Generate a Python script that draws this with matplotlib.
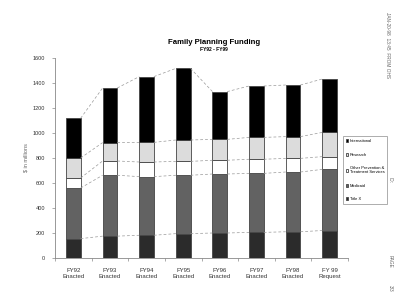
import matplotlib
matplotlib.use("Agg")
import matplotlib.pyplot as plt
import numpy as np

plt.rcParams["font.family"] = ["Liberation Sans", "DejaVu Sans"]

# data ($ millions)
years = ["FY92\nEnacted", "FY93\nEnacted", "FY94\nEnacted", "FY95\nEnacted",
         "FY96\nEnacted", "FY97\nEnacted", "FY98\nEnacted", "FY 99\nRequest"]
title_x = [155, 175, 182, 195, 200, 205, 210, 220]
medicaid = [405, 487, 469, 467, 472, 472, 478, 489]
other = [80, 114, 117, 111, 110, 113, 109, 102]
research = [160, 147, 157, 171, 167, 175, 174, 194]
international = [318, 437, 526, 573, 382, 411, 413, 427]

series = [
    ("Title X", title_x, "#2b2b2b"),
    ("Medicaid", medicaid, "#626262"),
    ("Other Prevention &\nTreatment Services", other, "white"),
    ("Research", research, "#dcdcdc"),
    ("International", international, "black"),
]

fig = plt.figure(figsize=(4, 3.08), dpi=100)
ax = fig.add_axes([0.1375, 0.1623, 0.7325, 0.6494])

x = np.arange(len(years))
w = 0.4
bottom = np.zeros(len(years))
handles = []
for name, vals, col in series:
    b = ax.bar(x, vals, w, bottom=bottom, color=col, edgecolor="#444444",
               linewidth=0.6, label=name)
    handles.append(b)
    bottom = bottom + np.array(vals)
    # series lines between bars
    for i in range(len(x) - 1):
        ax.plot([x[i] + w / 2, x[i + 1] - w / 2], [bottom[i], bottom[i + 1]],
                color="#999999", linewidth=0.5, linestyle=(0, (4, 3)))

ax.set_xlim(-0.5, 7.5)
ax.set_ylim(0, 1600)
ax.set_yticks(range(0, 1601, 200))
ax.tick_params(axis="y", labelsize=4, length=2, width=0.5, color="#888888",
               pad=5, labelcolor="#333333")
ax.set_xticks(x)
ax.set_xticklabels(years, fontsize=4.3, color="#333333", linespacing=1.3)
ax.tick_params(axis="x", length=0, pad=7)
ax.set_xticks(np.arange(-0.5, 8, 1), minor=True)
ax.tick_params(axis="x", which="minor", length=2, width=0.5, color="#888888")
for s in ["top", "right"]:
    ax.spines[s].set_visible(False)
for s in ["left", "bottom"]:
    ax.spines[s].set_color("#888888")
    ax.spines[s].set_linewidth(0.6)
ax.set_ylabel("$ in millions", fontsize=4, color="#666666", labelpad=3)

fig.text(0.535, 0.863, "Family Planning Funding", ha="center", va="center",
         fontsize=5.6, fontweight="bold")
fig.text(0.535, 0.838, "FY92 - FY99", ha="center", va="center",
         fontsize=3.6, fontweight="bold")

leg = fig.legend(handles[::-1], [s[0] for s in series][::-1],
                 loc="upper left", bbox_to_anchor=(0.857, 0.557),
                 fontsize=2.9, frameon=True, handlelength=0.7, handleheight=0.7,
                 handletextpad=0.3, labelspacing=2.3, borderpad=0.7,
                 borderaxespad=0, fancybox=False)
leg.get_frame().set_edgecolor("#888888")
leg.get_frame().set_linewidth(0.6)

# fax header along the right edge
hdr = dict(rotation=-90, fontsize=3.4, color="#666666", ha="center", va="center")
fig.text(0.97, 0.855, "JAN-20-98  13:45  FROM OHS", **hdr)
fig.text(0.975, 0.415, "ID:", **hdr)
fig.text(0.975, 0.15, "PAGE", **hdr)
fig.text(0.975, 0.065, "3/3", **hdr)

fig.savefig("out.png", dpi=100, facecolor="white")
